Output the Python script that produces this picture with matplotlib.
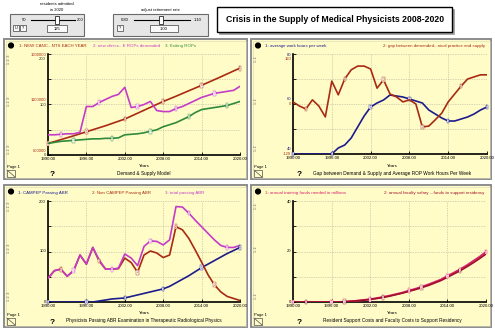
import matplotlib
matplotlib.use("Agg")
import matplotlib.pyplot as plt
from matplotlib.patches import Rectangle, Circle
import numpy as np

plt.rcParams['font.family'] = ['Liberation Sans', 'DejaVu Sans']

# ---------------- data ----------------
years = list(range(1990, 2021))
xticks = [1990, 1996, 2002, 2008, 2014, 2020]
xtick_labels = ["1990.00", "1996.00", "2002.00", "2008.00", "2014.00", "2020.00"]

# Panel 1: Demand & Supply Model
new_cancer_patients = [715000, 733000, 752000, 771000, 790000, 810000, 830000, 850000, 870000, 890000,
                       912000, 934000, 956000, 985000, 1014000, 1043000, 1072000, 1101000, 1130000,
                       1156000, 1182000, 1209000, 1236000, 1263000, 1290000, 1318000, 1346000,
                       1374000, 1403000, 1432000, 1460000]
rops_demanded = [40, 40, 41, 42, 42, 45, 96, 96, 104, 110, 116, 120, 134, 94, 96, 100, 106, 88, 86, 86,
                 92, 96, 102, 108, 114, 118, 122, 124, 126, 128, 136]
exiting_rops = [23, 25, 27, 28, 29, 30, 31, 32, 32, 33, 33, 34, 40, 41, 42, 44, 47, 50, 56, 60,
                64, 70, 76, 84, 90, 92, 94, 96, 98, 102, 106]

# Panel 2: Gap and work hours
work_hours = [40, 40, 40, 40, 40, 40, 40, 42.4, 43.6, 46.4, 50.8, 55.2, 58.8, 60.4, 61.6, 63.6, 63.2,
              62.8, 62.0, 61.2, 60.4, 57.6, 56.0, 54.4, 53.2, 53.2, 54.0, 54.8, 56.0, 57.6, 58.8]
gap = [5, -5, -12, 10, -5, -31, 55, 22, 60, 82, 91, 91, 84, 38, 58, 24, 17, 5, 10, 0,
       -55, -53, -38, -22, 5, 24, 43, 60, 65, 70, 70]

# Panel 3: ABR passing
campep_passing = [0, 0, 0, 0, 0, 0, 0, 0, 2, 4, 6, 7, 8, 11, 14, 17, 20, 23, 26, 31, 38, 45, 52, 60,
                  68, 75, 82, 89, 96, 102, 108]
non_campep_passing = [47, 62, 65, 51, 62, 93, 75, 108, 81, 65, 65, 66, 87, 78, 59, 93, 101, 97, 88, 93,
                      149, 143, 126, 103, 79, 54, 34, 20, 11, 7, 3]
total_passing = [47, 62, 65, 51, 62, 93, 75, 108, 83, 65, 65, 67, 95, 87, 72, 110, 121, 120, 113, 123,
                 189, 188, 176, 162, 149, 136, 123, 112, 108, 108, 112]

# Panel 4: costs (millions)
training_funds = [0, 0, 0, 0, 0, 0, 0, 0, 0.1, 0.3, 0.5, 0.8, 1.1, 1.5, 2.0, 2.5, 3.1, 3.7, 4.5, 5.2,
                  6.0, 6.9, 7.9, 8.9, 10.3, 11.6, 13.0, 14.5, 16.2, 17.9, 19.8]
faculty_salary = [0, 0, 0, 0, 0, 0, 0, 0, 0.1, 0.3, 0.5, 0.7, 1.0, 1.4, 1.8, 2.3, 2.9, 3.5, 4.2, 4.9,
                  5.7, 6.5, 7.5, 8.5, 9.8, 11.1, 12.4, 13.9, 15.5, 17.2, 19.0]

RED = '#a82a12'
MAG = '#c43cc8'
GRN = '#2f8a3a'
NAVY = '#1c1c8c'
PINK = '#d8206c'
DRED = '#a0102a'
PANEL = '#fffcc8'

W, H = 495, 330
fig = plt.figure(figsize=(4.95, 3.3), dpi=100)
fig.patch.set_facecolor('white')
bg = fig.add_axes([0, 0, 1, 1], zorder=0)
bg.set_xlim(0, W)
bg.set_ylim(H, 0)
bg.axis('off')


def txt(x, y, s, size=3.3, color='black', ha='left', va='center', **kw):
    bg.text(x, y, s, fontsize=size, color=color, ha=ha, va=va, **kw)


def box(x0, y0, x1, y1, fc, ec, lw=0.8, z=1):
    bg.add_patch(Rectangle((x0, y0), x1 - x0, y1 - y0, facecolor=fc, edgecolor=ec, lw=lw, zorder=z))


# ---------------- sliders and title ----------------
txt(57, 4, "residents admitted", size=3.0, ha='center')
txt(57, 10, "in 2020", size=3.0, ha='center')
box(10, 14, 84, 36, '#e6e6e6', '#6a6a6a', 0.8)
bg.plot([31, 75], [20, 20], color='black', lw=0.8, zorder=2)
box(55, 16, 59, 24, 'white', 'black', 0.5, z=3)
txt(24, 20, "50", size=3.0, ha='center')
txt(80, 20, "200", size=3.0, ha='center')
box(13, 25, 19, 31, '#f8f8f8', '#404040', 0.5, z=2)
txt(16, 28, "U", size=2.8, ha='center')
box(20, 25, 26, 31, '#f8f8f8', '#404040', 0.5, z=2)
txt(23, 28, "?", size=2.8, ha='center')
box(47, 25, 67, 32, '#fafafa', '#404040', 0.5, z=2)
txt(57, 28.5, "125", size=3.0, ha='center')

txt(160, 10, "adjust retirement rate", size=3.0, ha='center')
box(113, 14, 208, 36, '#e6e6e6', '#6a6a6a', 0.8)
bg.plot([134, 190], [20, 20], color='black', lw=0.8, zorder=2)
box(159, 16, 163, 24, 'white', 'black', 0.5, z=3)
txt(125, 20, "0.80", size=3.0, ha='center')
txt(198, 20, "1.10", size=3.0, ha='center')
box(117, 25, 123, 31, '#f8f8f8', '#404040', 0.5, z=2)
txt(120, 28, "?", size=2.8, ha='center')
box(150, 25, 178, 32, '#fafafa', '#404040', 0.5, z=2)
txt(164, 28.5, "1.00", size=3.0, ha='center')

box(219, 9, 454, 34, '#9a9a9a', '#9a9a9a', 0.5)
box(217, 7, 452, 32, 'white', 'black', 1.0, z=2)
txt(335, 19.5, "Crisis in the Supply of Medical Physicists 2008-2020", size=6.3,
    ha='center', weight='bold', zorder=3)


# ---------------- panels ----------------
def panel(x0, y0, x1, y1):
    box(x0, y0, x1, y1, PANEL, '#8c8c8c', 1.4)
    box(x0 + 1.5, y0 + 1.5, x1 - 1.5, y1 - 1.5, 'none', '#d8d8c0', 0.4, z=2)
    bg.add_patch(Circle((x0 + 7, y0 + 6.5), 2.4, color='black', zorder=3))
    txt(x0 + 3, y1 - 12, "Page 1", size=3.0)
    bg.add_patch(Rectangle((x0 + 3, y1 - 9), 8, 7, fc='none', ec='#505050', lw=0.5, zorder=3))
    bg.plot([x0 + 3, x0 + 11], [y1 - 9, y1 - 2], color='#505050', lw=0.5, zorder=3)
    txt(x0 + 48, y1 - 5, "?", size=6, ha='center', weight='bold')


def make_axes(x0, y0, x1, y1, ylims):
    a = fig.add_axes([x0 / W, 1 - y1 / H, (x1 - x0) / W, (y1 - y0) / H], zorder=2)
    a.patch.set_alpha(0)
    a.set_xlim(1990, 2020)
    a.set_ylim(*ylims)
    for s in ['top', 'right']:
        a.spines[s].set_visible(False)
    a.spines['left'].set_linewidth(1.2)
    a.spines['bottom'].set_linewidth(1.2)
    a.set_xticks(xticks)
    a.set_xticklabels(xtick_labels, fontsize=3.1)
    a.set_yticks(np.linspace(ylims[0], ylims[1], 5))
    a.set_yticklabels([])
    a.tick_params(axis='both', direction='in', length=2, width=0.6, pad=1.2)
    a.grid(True, color='#b0ae98', lw=0.5, ls=(0, (1, 1.5)))
    return a


def twin(a, ylims):
    t = a.twinx()
    t.set_ylim(*ylims)
    t.set_axis_off()
    return t


def nums(a, vals, n, color, start, step=6):
    for i in range(start, len(years), step):
        a.text(years[i], vals[i], str(n), fontsize=2.2, color=color, ha='center', va='center',
               bbox=dict(boxstyle='square,pad=0.12', fc='white', ec=color, lw=0.3), zorder=6,
               clip_on=False)


def ylabels(xl, ytop, ybot, groups):
    ymid = (ytop + ybot) / 2
    n = len(groups)
    for k, (t, m, b, c) in enumerate(groups):
        txt(xl, ytop + 1 + 4.5 * k, t, size=3.0, color=c, ha='right')
        txt(xl, ymid - 4.5 * (n - 1 - k), m, size=3.0, color=c, ha='right')
        txt(xl, ybot - 4.5 * (n - 1 - k), b, size=3.0, color=c, ha='right')


def side_tags(x, ytop, ybot, s):
    ymid = (ytop + ybot) / 2
    for yy in (ytop + 5, ymid - 3, ybot - 6):
        txt(x, yy, s, size=2.3, color='#505050', rotation=90, ha='center')


# Panel 1
panel(4, 39, 247, 179)
ax1 = make_axes(48, 54, 240, 155, (600000, 1600000))
ax1b = twin(ax1, (0, 200))
ax1.plot(years, new_cancer_patients, color=RED, lw=1.2, zorder=4)
ax1b.plot(years, rops_demanded, color=MAG, lw=1.2, zorder=4)
ax1b.plot(years, exiting_rops, color=GRN, lw=1.2, zorder=4)
nums(ax1, new_cancer_patients, 1, RED, 0)
nums(ax1b, rops_demanded, 2, MAG, 2)
nums(ax1b, exiting_rops, 3, GRN, 4)
ylabels(46, 54, 155, [("1600000", "1100000", "600000", RED), ("200", "100", "0", '#303030')])
side_tags(9, 54, 155, "1: 2: 3:")
txt(19, 46, "1: NEW CANC...NTS EACH YEAR", size=3.2, color=RED)
txt(93, 46, "2: new clinics...E ROPs demanded", size=3.2, color=MAG)
txt(165, 46, "3: Exiting ROPs", size=3.2, color=GRN)
txt(144, 166, "Years", size=3.2, ha='center')
txt(144, 173, "Demand & Supply Model", size=3.4, ha='center')

# Panel 2
panel(251, 39, 491, 179)
ax2 = make_axes(293, 54, 487, 154, (40, 80))
ax2b = twin(ax2, (-120, 120))
ax2.plot(years, work_hours, color=NAVY, lw=1.2, zorder=4)
ax2b.plot(years, gap, color=RED, lw=1.2, zorder=4)
nums(ax2, work_hours, 1, NAVY, 0)
nums(ax2b, gap, 2, RED, 2)
ylabels(291, 54, 154, [("80", "60", "40", NAVY), ("120", "0", "-120", RED)])
side_tags(256, 54, 154, "1: 2:")
txt(265, 46, "1: average work hours per week", size=3.2, color=NAVY)
txt(485, 46, "2: gap between demanded...nical practice and supply", size=3.2, color=RED, ha='right')
txt(392, 166, "Years", size=3.2, ha='center')
txt(392, 173, "Gap between Demand & Supply and Average ROP Work Hours Per Week", size=3.4, ha='center')

# Panel 3
panel(4, 185, 247, 327)
ax3 = make_axes(48, 201, 240, 302, (0, 200))
ax3.plot(years, campep_passing, color=NAVY, lw=1.2, zorder=4)
ax3.plot(years, non_campep_passing, color=RED, lw=1.2, zorder=4)
ax3.plot(years, total_passing, color=MAG, lw=1.2, zorder=4)
nums(ax3, campep_passing, 1, NAVY, 0)
nums(ax3, non_campep_passing, 2, RED, 2)
nums(ax3, total_passing, 3, MAG, 4)
ylabels(46, 201, 302, [("200", "100", "0", 'black')])
side_tags(9, 201, 302, "1: 2: 3:")
txt(18, 193, "1: CAMPEP Passing ABR", size=3.2, color=NAVY)
txt(92, 193, "2: Non CAMPEP Passing ABR", size=3.2, color=RED)
txt(165, 193, "3: total passing ABR", size=3.2, color=MAG)
txt(144, 313, "Years", size=3.2, ha='center')
txt(144, 320.5, "Physicists Passing ABR Examination in Therapeutic Radiological Physics", size=3.4,
    ha='center')

# Panel 4
panel(251, 185, 491, 327)
ax4 = make_axes(293, 201, 486, 302, (0, 40))
ax4.plot(years, training_funds, color=PINK, lw=1.4, zorder=4)
ax4.plot(years, faculty_salary, color=DRED, lw=1.2, zorder=4)
nums(ax4, training_funds, 1, PINK, 0)
nums(ax4, faculty_salary, 2, DRED, 2)
ylabels(291, 201, 302, [("40", "20", "0", 'black')])
side_tags(256, 201, 302, "1: 2:")
txt(265, 193, "1: annual training funds needed in millions", size=3.2, color=PINK)
txt(484, 193, "2: annual faculty salary ...funds to support residency", size=3.2, color=DRED,
    ha='right')
txt(392, 313, "Years", size=3.2, ha='center')
txt(392, 320.5, "Resident Support Costs and Faculty Costs to Support Residency", size=3.4, ha='center')

fig.savefig("out.png", dpi=100, facecolor='white')
